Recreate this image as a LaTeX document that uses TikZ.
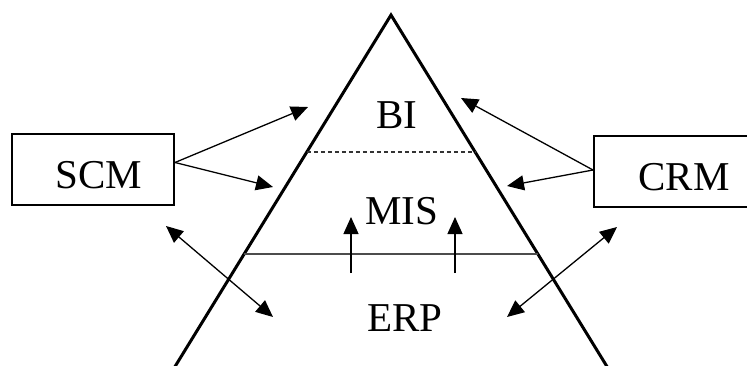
\documentclass[tikz,border=0pt]{standalone}
\usepackage{fontspec}
\setmainfont{Liberation Serif}
\usetikzlibrary{arrows.meta, calc}

\begin{document}
\begin{tikzpicture}[x=1pt, y=-1pt, line join=miter,
    sysbox/.style={draw, line width=2pt, minimum width=162pt, minimum height=71pt,
        text height=38pt, text depth=0pt, inner sep=0pt, font=\fontsize{41}{48}\selectfont},
    layer/.style={inner sep=0pt, font=\fontsize{41}{48}\selectfont},
    link/.style={line width=1.3pt, -{Triangle[length=17pt, width=15pt]}},
    both/.style={line width=1.3pt, {Triangle[length=17pt, width=15pt]}-{Triangle[length=17pt, width=15pt]}}]
    \useasboundingbox (0,0) rectangle (747,365);
    % Pyramide
    \coordinate (top) at (391,15);
    \coordinate (bl) at (173.5,369);
    \coordinate (br) at (608.5,369);
    \draw[line width=3pt] (bl) -- (top) -- (br);
    \draw[line width=1.2pt, dashed, dash pattern=on 4pt off 3pt, black!80]
        ($(top)!0.387!(bl)$) -- ($(top)!0.387!(br)$);
    \draw[line width=1.4pt, black!70] ($(top)!0.675!(bl)$) -- ($(top)!0.675!(br)$);
    % Lapisan
    \node[layer] (bi) at (397,115) {BI};
    \node[layer] (mis) at (402,211) {MIS};
    \node[layer] (erp) at (405,318) {ERP};
    % Kotak samping
    \node[sysbox] (scm) at (93,169.5) {\hspace*{12pt}SCM};
    \node[sysbox, minimum width=156pt] (crm) at (672,171.5) {\hspace*{24pt}CRM};
    % Ujung panah
    \coordinate (s1) at (308,107);
    \coordinate (s2) at (273,187);
    \coordinate (c1) at (461,98);
    \coordinate (c2) at (507,186);
    \coordinate (dl1) at (166,226);
    \coordinate (dl2) at (273,317);
    \coordinate (dr1) at (617,227);
    \coordinate (dr2) at (507,317);
    \coordinate (u1a) at (351,273);
    \coordinate (u1b) at (351,217);
    \coordinate (u2a) at (455,273);
    \coordinate (u2b) at (455,217);
    % Panah
    \draw[link] (scm.east) ++(0,-7) coordinate (se) -- (s1);
    \draw[link] (se) -- (s2);
    \draw[link] (crm.west) ++(0,-1.5) coordinate (cw) -- (c1);
    \draw[link] (cw) -- (c2);
    \draw[both] (dl1) -- (dl2);
    \draw[both] (dr1) -- (dr2);
    \draw[link] (u1a) -- (u1b);
    \draw[link] (u2a) -- (u2b);
\end{tikzpicture}
\end{document}
